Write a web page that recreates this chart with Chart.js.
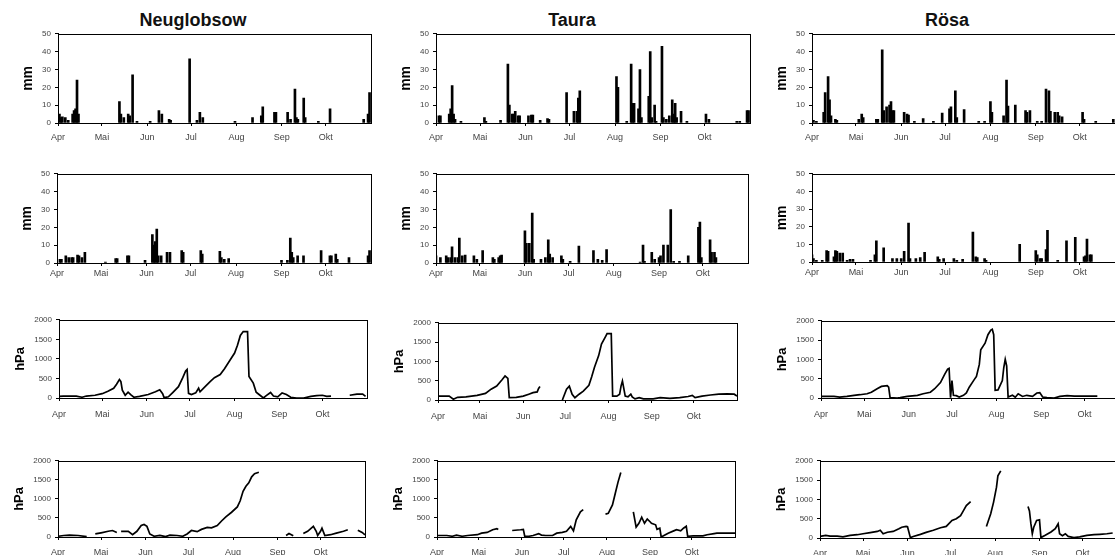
<!DOCTYPE html>
<html>
<head>
<meta charset="utf-8">
<script src="https://cdn.jsdelivr.net/npm/chart.js@4.4.0/dist/chart.umd.min.js"></script>
<style>
  html, body { margin: 0; padding: 0; background: #fff; overflow: hidden; }
  #page { position: relative; width: 1115px; height: 555px; overflow: hidden; background: #fff; }
  .panel { position: absolute; }
  .site { position: absolute; top: 10px; line-height: 18px; font: bold 18px "Liberation Sans", Arial, sans-serif; color: #111; transform: translateX(-50%); white-space: nowrap; }
</style>
</head>
<body>
<div id="page">
  <div class="site" style="left:193px">Neuglobsow</div>
  <div class="site" style="left:572px">Taura</div>
  <div class="site" style="left:947px">Rösa</div>
</div>
<script>
// ======================
// Achse: Tage ab 1. April
// ======================
const monthLabels = ['Apr', 'Mai', 'Jun', 'Jul', 'Aug', 'Sep', 'Okt'];
const monthStarts = [0, 30, 61, 91, 122, 153, 183];
const dayCount = 214;

// ======================
// Neuglobsow
// ======================
const neuRain1Days = [1,2,3,5,7,10,11,12,13,14,42,43,45,48,49,51,54,63,69,71,76,77,90,95,97,99,121,133,139,140,148,149,157,159,162,163,164,168,169,178,186,209,212,213];
const neuRain1Mm   = [5,3,3.5,3,1.5,5,7,8,24,5,12,5,3,5,4,27,1,1,7,5,2,1.5,36,1.5,6,3,1,3,4,9,6,6,6,2,19,3,2,14,3,1,8,2,5,17];

const neuRain2Days = [2,3,6,8,10,11,14,15,17,19,33,40,41,48,49,60,65,66,67,68,69,71,75,77,85,86,98,99,111,112,114,117,153,157,159,160,161,164,168,180,186,187,190,191,199,212,213];
const neuRain2Mm   = [2,2,4,3,3,3,4.5,4,3,6,0.5,2.5,2.5,4,4,1.5,16,10,12,19,4,4,6,6,7,6,7,5,6.5,3,2,2.5,1.5,1.5,14,6,3,4,4,7,4,4,5,2,3,4,7];

const neuTens1Days = [0,3,7,12,16,19,25,30,34,38,40,42,43,44,46,48,50,52,56,62,67,70,72,73,76,79,83,86,88,89,90,92,95,97,98,101,105,108,112,115,119,122,124,126,128,131,132,135,137,139,142,144,147,149,152,155,158,161,165,170,175,179,183,186,189,195,202,207,211,213];
const neuTens1Hpa  = [40,50,50,50,20,50,70,110,170,250,350,470,420,200,70,150,80,20,40,90,160,210,110,10,30,140,290,520,690,730,120,90,130,250,160,270,420,520,600,750,980,1150,1350,1600,1700,1700,550,380,150,90,0,60,140,50,30,130,90,20,0,0,40,60,70,40,50,null,70,100,100,40];

const neuTens2Days = [0,4,8,14,20,23,26,30,35,38,41,42,44,49,52,55,58,60,62,64,67,71,75,78,83,87,90,93,97,100,104,107,111,114,117,121,125,127,129,131,133,135,137,140,150,159,161,164,167,171,174,178,180,181,183,184,186,190,194,199,202,205,209,212,214];
const neuTens2Hpa  = [20,40,50,40,10,null,80,110,150,170,120,null,150,150,60,150,300,330,280,80,20,40,10,50,40,20,80,170,140,200,250,240,300,420,530,650,790,950,1200,1330,1420,1580,1660,1700,null,40,90,30,null,90,150,280,150,40,150,230,40,60,100,150,190,null,180,120,60];

// ======================
// Taura
// ======================
const tauRain1Days = [2,3,9,10,11,12,13,17,33,34,44,49,50,52,53,54,56,57,63,65,66,71,76,77,89,94,96,97,98,123,124,130,133,134,135,138,139,140,145,146,147,149,150,154,155,157,159,161,162,163,164,167,171,184,186,205,207,212,213];
const tauRain1Mm   = [4,4,5,8,21,5,2,1,3,1,1.5,33,10,5,5,6.5,4,4,4,4.5,4.5,1.5,2.5,2,17,6.5,6.5,14,18,26,20,1,33,11,11,8,30,3,15,40,3,10,1,43,3,2,4,13,5,11,3,6.5,1,5,2,1,1,7,7];

const tauRain2Days = [0,3,7,8,10,11,13,15,16,18,20,26,28,32,39,40,43,44,45,61,62,64,66,67,72,75,77,78,80,86,87,92,98,108,111,114,117,140,142,143,148,150,153,154,156,159,161,163,167,173,180,181,182,188,189,191,192];
const tauRain2Mm   = [4,3,4,3,3,9,3,3,14,4,4.5,4,2,7,3,2,3,4,4.5,18,11,11,28,2,2,3,13,5,3,4,2,1,9.5,7,2,1.5,7.5,0.5,10,1,6,2,3,4,10,10,30,1,1,4,20,23,3,13,6,6,3];

const tauTens1Days = [0,8,11,14,20,28,34,38,42,46,48,50,51,56,61,65,68,71,72,73,80,89,92,94,96,98,101,104,108,110,112,115,117,120,121,124,125,128,130,131,132,134,136,138,139,141,144,147,154,159,166,173,179,182,184,189,195,201,207,212,214];
const tauTens1Hpa  = [100,100,20,70,80,120,170,280,360,530,620,560,60,70,100,150,190,210,300,350,null,0,280,360,150,60,150,230,380,600,850,1150,1450,1650,1720,1720,100,100,150,360,490,100,80,150,80,30,60,30,30,60,40,60,90,120,60,100,130,150,160,150,100];

const tauTens2Days = [0,7,11,14,18,22,29,32,36,40,43,44,49,54,60,62,63,66,69,73,75,78,83,86,90,93,96,98,100,103,105,113,121,123,126,128,130,132,136,141,143,145,147,149,151,153,154,157,158,160,161,164,166,170,172,175,177,179,180,184,191,194,199,201,214];
const tauTens2Hpa  = [40,40,20,50,20,40,60,100,120,190,220,200,null,170,190,200,20,20,40,90,50,40,40,100,120,150,280,160,450,660,720,null,600,620,840,1140,1440,1690,null,660,260,360,520,360,470,400,360,320,200,230,0,60,100,160,190,160,230,280,20,30,30,60,90,100,100];

// ======================
// Rösa
// ======================
const roeRain1Days = [1,3,8,9,11,12,13,16,17,32,34,35,44,45,48,49,51,53,54,55,56,63,65,66,70,76,83,89,94,95,98,99,104,114,118,122,123,131,133,134,139,146,147,149,154,157,160,162,163,166,168,169,171,185,186,194,206];
const roeRain1Mm   = [1.5,1,6,17,26,13,4,2,1.5,2,5,3,2,2,41,7,9,10,12,7,7,6,5,4.5,1,2.5,1,5.5,8,9,18,3,7.5,1,1,12,6,4,24,9.5,10,7,6,7,1,1,19,18,6.5,6,6,4,3.5,6,2,1,2];

const roeRain2Days = [0,1,3,7,10,11,15,16,17,19,21,24,26,28,40,43,44,49,55,58,61,63,66,67,71,74,77,86,87,90,97,99,103,110,112,113,118,119,142,153,154,156,157,160,161,168,174,180,186,187,188,190,191];
const roeRain2Mm   = [4,2,1,1,6.5,6,3,6.5,6,5,5,1,1.5,1.5,1,4,12,8,2,2,2,6,22,2,2,2.5,5.5,3,1.5,2,2,1,1.5,17,3,2.5,2,1,10,6.5,4,2,2,7,18,1,12,14,3,3.5,13,4,4];

const roeTens1Days = [0,9,13,18,23,27,32,35,39,42,46,47,48,53,55,60,67,71,76,79,83,86,88,89,90,91,92,94,96,99,101,103,106,108,110,111,114,116,118,119,120,121,123,126,127,128,129,130,133,135,137,140,143,147,150,152,154,157,162,166,171,176,183,192];
const roeTens1Hpa  = [40,40,25,40,70,85,110,150,240,300,320,280,10,0,10,40,70,110,150,240,400,620,750,770,10,450,70,60,25,70,130,280,450,560,870,1250,1420,1640,1760,1780,1640,200,210,450,790,1000,830,25,70,20,110,40,70,40,130,140,25,10,0,40,60,50,50,50];

const roeTens2Days = [0,4,7,12,16,21,26,30,35,40,42,44,47,51,55,57,60,61,63,65,70,74,79,84,88,92,95,98,100,102,105,110,116,117,119,121,123,124,126,135,145,146,147,148,149,151,153,154,157,161,164,166,167,169,171,173,177,181,186,191,195,200,204];
const roeTens2Hpa  = [40,70,50,50,30,70,85,110,140,170,200,110,150,170,240,280,300,290,10,40,95,145,200,265,300,455,500,580,710,840,945,null,300,410,630,930,1310,1610,1740,null,815,700,370,110,280,455,470,10,70,155,240,370,110,60,110,40,10,30,70,85,95,110,130];

// ======================
// Hilfsfunktionen
// ======================
const FONT = '"Liberation Sans", Arial, sans-serif';
const pts = (xs, ys) => xs.map((x, i) => ({ x: x, y: ys[i] }));

// Rahmen um die Zeichenfläche
const framePlugin = {
  id: 'frame',
  afterDraw(chart) {
    const a = chart.chartArea;
    const ctx = chart.ctx;
    ctx.save();
    ctx.strokeStyle = '#000';
    ctx.lineWidth = 1;
    ctx.strokeRect(Math.round(a.left) + 0.5, Math.round(a.top) + 0.5,
                   Math.round(a.right - a.left), Math.round(a.bottom - a.top));
    ctx.restore();
  }
};

function panel(box, kind, days, vals, labelGap) {
  const isBar = kind === 'mm';
  const axisW = isBar ? 38 : 46;
  const padTop = 8, padRight = 2, axisH = 26;
  const w = box[2] - box[0] + axisW + padRight;
  const h = box[3] - box[1] + padTop + axisH;

  const wrap = document.createElement('div');
  wrap.className = 'panel';
  wrap.style.left = (box[0] - axisW) + 'px';
  wrap.style.top = (box[1] - padTop) + 'px';
  wrap.style.width = w + 'px';
  wrap.style.height = h + 'px';
  const canvas = document.createElement('canvas');
  canvas.width = w;
  canvas.height = h;
  wrap.appendChild(canvas);
  document.getElementById('page').appendChild(wrap);

  const dataset = isBar
    ? { data: pts(days, vals), backgroundColor: '#000', barThickness: 2 }
    : { data: pts(days, vals), borderColor: '#000', borderWidth: 1.7, pointRadius: 0, tension: 0, spanGaps: false, fill: false };

  return new Chart(canvas, {
    type: isBar ? 'bar' : 'line',
    data: { datasets: [dataset] },
    options: {
      responsive: false,
      animation: false,
      layout: { padding: { top: padTop, right: padRight, left: 0, bottom: 0 } },
      plugins: { legend: { display: false }, tooltip: { enabled: false } },
      scales: {
        x: {
          type: 'linear', min: 0, max: dayCount, offset: false,
          afterBuildTicks: s => { s.ticks = monthStarts.map(v => ({ value: v })); },
          afterFit: s => { s.height = axisH; },
          ticks: {
            autoSkip: false, maxRotation: 0, padding: labelGap,
            callback: (v, i) => monthLabels[i],
            color: '#444', font: { family: FONT, size: 9 }
          },
          grid: { display: true, offset: false, drawOnChartArea: false, drawTicks: true, tickLength: 3, color: '#000' },
          border: { display: true, color: '#000', width: 1 }
        },
        y: {
          min: 0, max: isBar ? 50 : 2000,
          afterFit: s => { s.width = axisW; },
          ticks: {
            stepSize: isBar ? 10 : 500, padding: 4, color: '#444',
            font: { family: FONT, size: 8 },
            callback: v => String(v)
          },
          title: {
            display: true, text: isBar ? 'mm' : 'hPa', padding: 0, color: '#000',
            font: { family: FONT, size: isBar ? 14 : 13, weight: 'bold' }
          },
          grid: { display: true, drawOnChartArea: false, drawTicks: true, tickLength: 3, color: '#000' },
          border: { display: true, color: '#000', width: 1 }
        }
      }
    },
    plugins: [framePlugin]
  });
}

// ======================
// Panels [links, oben, rechts, unten] der Zeichenfläche
// ======================
panel([58, 33, 371, 123],   'mm',  neuRain1Days, neuRain1Mm, 6);
panel([57, 173, 371, 263],  'mm',  neuRain2Days, neuRain2Mm, 2);
panel([59, 319, 367, 398],  'hPa', neuTens1Days, neuTens1Hpa, 8);
panel([58, 460, 365, 537],  'hPa', neuTens2Days, neuTens2Hpa, 7);

panel([436, 33, 750, 123],  'mm',  tauRain1Days, tauRain1Mm, 6);
panel([436, 173, 748, 263], 'mm',  tauRain2Days, tauRain2Mm, 2);
panel([438, 322, 737, 400], 'hPa', tauTens1Days, tauTens1Hpa, 8);
panel([437, 460, 735, 537], 'hPa', tauTens2Days, tauTens2Hpa, 7);

panel([812, 33, 1125, 123], 'mm',  roeRain1Days, roeRain1Mm, 6);
panel([812, 173, 1125, 262],'mm',  roeRain2Days, roeRain2Mm, 2);
panel([821, 320, 1129, 398],'hPa', roeTens1Days, roeTens1Hpa, 8);
panel([820, 460, 1127, 538],'hPa', roeTens2Days, roeTens2Hpa, 7);
</script>
</body>
</html>
